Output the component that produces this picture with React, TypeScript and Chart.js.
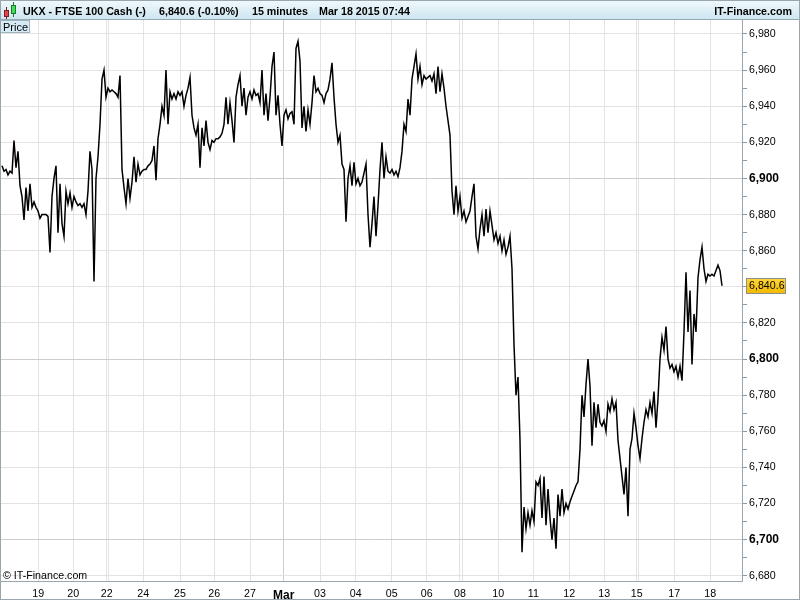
import { useEffect, useRef } from 'react';
import { Chart, registerables } from 'chart.js';

Chart.register(...registerables);

const FONT = '"Liberation Sans", Arial, sans-serif';

// ---- header texts ----
const TITLE = 'UKX - FTSE 100 Cash (-)';
const LAST_TEXT = '6,840.6 (-0.10%)';
const PERIOD_TEXT = '15 minutes';
const DATE_TEXT = 'Mar 18 2015 07:44';
const BRAND = 'IT-Finance.com';
const COPYRIGHT = '\u00A9 IT-Finance.com';
const PANEL_LABEL = 'Price';

// ---- 15-minute close series (sampled), Feb 18 -> Mar 18 2015 ----
const PRICES = [
  6907, 6904, 6905, 6902, 6904, 6903, 6921, 6906, 6915, 6896,
  6890, 6877, 6895, 6882, 6897, 6884, 6887, 6884, 6882, 6878,
  6880, 6880, 6880, 6879, 6859, 6890, 6900, 6907, 6870, 6897,
  6875, 6868, 6893, 6886, 6892, 6884, 6890, 6887, 6885, 6886,
  6884, 6886, 6880, 6893, 6915, 6905, 6843, 6900, 6912, 6930,
  6955, 6960, 6945, 6950, 6948, 6949, 6948, 6947, 6945, 6957,
  6905, 6895, 6886, 6900, 6889, 6898, 6912, 6898, 6908, 6902,
  6904, 6905, 6905, 6907, 6908, 6910, 6918, 6899, 6922, 6930,
  6940, 6935, 6960, 6930, 6948, 6944, 6947, 6944, 6948, 6946,
  6948, 6940, 6946, 6950, 6956, 6935, 6928, 6924, 6930, 6906,
  6928, 6918, 6932, 6920, 6916, 6921, 6920, 6922, 6922, 6923,
  6925, 6930, 6945, 6930, 6942, 6932, 6920, 6945, 6952, 6957,
  6940, 6950, 6935, 6945, 6948, 6944, 6949, 6946, 6947, 6942,
  6960, 6935, 6947, 6932, 6945, 6962, 6970, 6935, 6946, 6930,
  6918, 6935, 6938, 6933, 6936, 6937, 6930, 6972, 6976, 6965,
  6928, 6940, 6926, 6938, 6930, 6942, 6957, 6948, 6950, 6947,
  6946, 6942, 6947, 6949, 6955, 6964, 6945, 6930, 6920, 6924,
  6908, 6905, 6876, 6900, 6907, 6896, 6909, 6897, 6900, 6896,
  6898, 6903, 6908, 6880, 6862, 6875, 6890, 6868, 6885, 6905,
  6920, 6900, 6912, 6904, 6903, 6905, 6902, 6904, 6901, 6906,
  6915, 6930, 6926, 6944, 6935, 6955, 6962, 6969, 6955, 6962,
  6952, 6957, 6955, 6956, 6957, 6954, 6958, 6947, 6962, 6948,
  6958, 6950, 6940, 6932, 6924, 6893, 6880, 6896, 6882, 6890,
  6878, 6882, 6876, 6879, 6882, 6890, 6897, 6868, 6861, 6872,
  6880, 6868, 6883, 6870, 6882, 6874, 6866, 6870, 6864, 6868,
  6860, 6866, 6858, 6862, 6868, 6850, 6808, 6780, 6790, 6755,
  6693, 6718, 6706, 6715, 6708, 6716, 6710, 6732, 6730, 6734,
  6712, 6735, 6708, 6728, 6712, 6700, 6712, 6695, 6725, 6713,
  6728, 6715, 6720, 6717, 6721, 6724, 6727, 6730, 6732, 6750,
  6780, 6768, 6786, 6800, 6785, 6752, 6776, 6762, 6775, 6765,
  6763, 6766, 6760, 6775, 6771, 6778, 6772, 6776, 6755, 6745,
  6735, 6725, 6740, 6713, 6750, 6756, 6770, 6762, 6752, 6745,
  6756, 6765, 6772, 6768, 6776, 6770, 6782, 6762, 6778, 6800,
  6812, 6805, 6818, 6800, 6795, 6797, 6793, 6796, 6790, 6796,
  6788, 6815, 6848, 6815, 6838, 6797, 6825, 6815, 6845, 6855,
  6862, 6850, 6843, 6847, 6846, 6847, 6846, 6849, 6852, 6849,
  6840.6,
];

// ---- x axis: session starts (sample index) and their labels ----
const X_TICK_POS = [
  18.15, 35.65, 52.35, 53.15, 70.65, 89, 106.15, 124, 140.85, 159,
  176.85, 194.85, 212.35, 229, 230.15, 248.15, 265.65, 283.65, 301.15,
  317.35, 318.15, 336.15, 354.15,
];
const X_TICK_LABELS = [
  '19', '20', '22', '', '24', '25', '26', '27', 'Mar', '03',
  '04', '05', '06', '08', '', '10', '11', '12', '13',
  '15', '', '17', '18',
];
const X_MIN = -0.5;
const X_MAX = 370;

// ---- y axis ----
const Y_TICKS = [
  6680, 6690, 6700, 6710, 6720, 6730, 6740, 6750, 6760, 6770,
  6780, 6790, 6800, 6810, 6820, 6830, 6840, 6850, 6860, 6870,
  6880, 6890, 6900, 6910, 6920, 6930, 6940, 6950, 6960, 6970, 6980,
];
const Y_MIN = 6677.1;
const Y_MAX = 6987.75;

const fmt = (v: number) => {
  const s = String(v);
  const [a, b] = s.split('.');
  const w = a.replace(/\B(?=(\d{3})+(?!\d))/g, ',');
  return b ? w + '.' + b : w;
};

const decor = {
  id: 'decor',
  beforeDraw(chart: any) {
    const c = chart.ctx;
    c.save();
    c.fillStyle = '#ffffff';
    c.fillRect(0, 0, chart.width, chart.height);
    c.restore();
  },
  afterDraw(chart: any) {
    const c = chart.ctx as CanvasRenderingContext2D;
    const W = chart.width;
    c.save();
    // header bar
    const g = c.createLinearGradient(0, 0, 0, 20);
    g.addColorStop(0, '#f1f9fc');
    g.addColorStop(1, '#cce5f0');
    c.fillStyle = g;
    c.fillRect(0, 0, W, 20);
    c.strokeStyle = '#98a8b2';
    c.lineWidth = 1;
    c.beginPath();
    c.moveTo(0, 19.5);
    c.lineTo(W, 19.5);
    c.stroke();

    // candle icon
    c.strokeStyle = '#7a2020';
    c.beginPath(); c.moveTo(6.5, 7); c.lineTo(6.5, 19); c.stroke();
    c.fillStyle = '#e8424a';
    c.fillRect(4, 10, 5, 7);
    c.strokeRect(4.5, 10.5, 4, 6);
    c.strokeStyle = '#1d7a2a';
    c.beginPath(); c.moveTo(13.5, 2); c.lineTo(13.5, 17); c.stroke();
    c.fillStyle = '#3ee05a';
    c.fillRect(11, 5, 5, 9);
    c.strokeRect(11.5, 5.5, 4, 8);

    // header texts
    c.fillStyle = '#000';
    c.font = `bold 10.7px ${FONT}`;
    c.textBaseline = 'alphabetic';
    c.textAlign = 'left';
    c.fillText(TITLE, 23, 15);
    c.fillText(LAST_TEXT, 159, 15);
    c.fillText(PERIOD_TEXT, 252, 15);
    c.fillText(DATE_TEXT, 319, 15);
    c.textAlign = 'right';
    c.fillText(BRAND, 792, 15);

    // "Price" panel label
    c.fillStyle = '#d6ebf5';
    c.fillRect(0, 20, 30, 13);
    c.strokeStyle = '#9fb3bf';
    c.strokeRect(0.5, 20.5, 29, 12);
    c.fillStyle = '#000';
    c.textAlign = 'left';
    c.font = `11px ${FONT}`;
    c.fillText(PANEL_LABEL, 3, 31);

    // copyright
    c.font = `10.67px ${FONT}`;
    c.fillText(COPYRIGHT, 3, 579);

    // last price tag
    const last = PRICES[PRICES.length - 1];
    const y = Math.round(chart.scales.y.getPixelForValue(last));
    const tg = c.createLinearGradient(0, y - 8, 0, y + 8);
    tg.addColorStop(0, '#ffd83a');
    tg.addColorStop(1, '#f2b800');
    c.fillStyle = tg;
    c.fillRect(746, y - 8, 40, 16);
    c.strokeStyle = '#8f8f8f';
    c.strokeRect(746.5, y - 7.5, 39, 15);
    c.fillStyle = '#000';
    c.font = `10.67px ${FONT}`;
    c.textBaseline = 'middle';
    c.fillText(fmt(last), 749, y + 0.5);

    // outer border
    c.strokeStyle = '#9aa6ae';
    c.strokeRect(0.5, 0.5, W - 1, chart.height - 1);
    c.restore();
  },
};

export default function App() {
  const ref = useRef<HTMLCanvasElement>(null);
  useEffect(() => {
    const canvas = ref.current;
    if (!canvas) return;
    const chart = new Chart(canvas, {
      type: 'line',
      data: {
        datasets: [
          {
            data: PRICES.map((p, i) => ({ x: i, y: p })),
            borderColor: '#000000',
            borderWidth: 1.5,
            pointRadius: 0,
            tension: 0,
            fill: false,
          },
        ],
      },
      options: {
        animation: false,
        responsive: false,
        devicePixelRatio: 1,
        layout: { padding: { top: 20, left: 1, right: 0, bottom: 0 } },
        plugins: { legend: { display: false }, tooltip: { enabled: false } },
        scales: {
          x: {
            type: 'linear',
            position: 'bottom',
            min: X_MIN,
            max: X_MAX,
            afterBuildTicks: (s: any) => {
              s.ticks = X_TICK_POS.map((v) => ({ value: v }));
            },
            afterFit: (s: any) => {
              s.height = 19;
            },
            ticks: {
              autoSkip: false,
              maxRotation: 0,
              minRotation: 0,
              padding: 7,
              color: '#000',
              font: (ctx: any) =>
                X_TICK_LABELS[ctx.index] === 'Mar'
                  ? { family: FONT, size: 12, weight: 'bold' }
                  : { family: FONT, size: 10.67 },
              callback: (_v: any, i: number) => X_TICK_LABELS[i],
            },
            grid: {
              drawTicks: false,
              lineWidth: 1,
              color: (ctx: any) => (X_TICK_LABELS[ctx.index] === 'Mar' ? '#cdcdcd' : '#e3e3e3'),
            },
            border: { color: '#9aa6ae' },
          },
          y: {
            type: 'linear',
            position: 'right',
            min: Y_MIN,
            max: Y_MAX,
            afterBuildTicks: (s: any) => {
              s.ticks = Y_TICKS.map((v) => ({ value: v }));
            },
            afterFit: (s: any) => {
              s.width = 58;
            },
            ticks: {
              autoSkip: false,
              padding: 2,
              color: '#000',
              font: (ctx: any) =>
                ctx.tick && ctx.tick.value % 100 === 0
                  ? { family: FONT, size: 12, weight: 'bold' }
                  : { family: FONT, size: 10.67 },
              callback: (v: any) => (Number(v) % 20 === 0 ? fmt(Number(v)) : ''),
            },
            grid: {
              drawTicks: true,
              tickLength: 5,
              tickColor: '#8d99a2',
              lineWidth: 1,
              color: (ctx: any) => {
                const v = ctx.tick ? ctx.tick.value : 0;
                if (v % 20 !== 0) return 'rgba(0,0,0,0)';
                return v % 100 === 0 ? '#cdcdcd' : '#e3e3e3';
              },
            },
            border: { color: '#9aa6ae' },
          },
        },
      },
      plugins: [decor],
    });
    return () => chart.destroy();
  }, []);
  return (
    <div style={{ position: 'fixed', left: 0, top: 0, width: 800, height: 600, background: '#fff' }}>
      <canvas ref={ref} width={800} height={600} style={{ display: 'block', width: 800, height: 600 }} />
    </div>
  );
}
